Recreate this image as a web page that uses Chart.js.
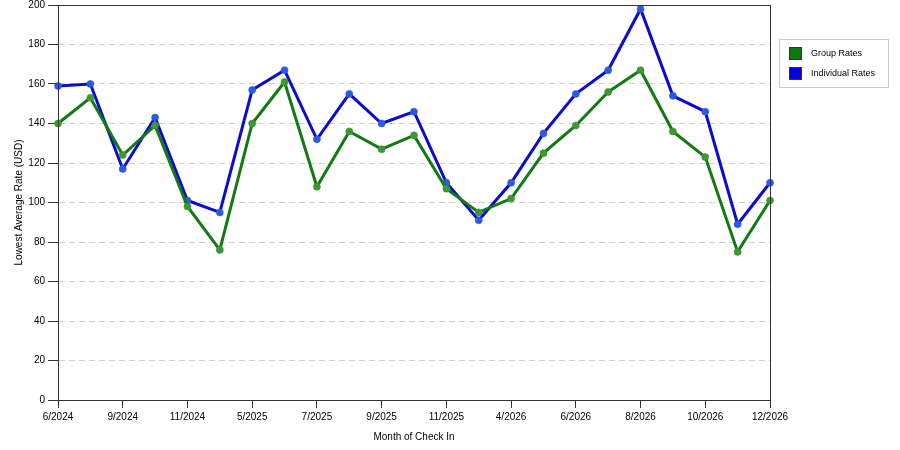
<!DOCTYPE html>
<html>
<head>
<meta charset="utf-8">
<script src="https://cdn.jsdelivr.net/npm/chart.js@4/dist/chart.umd.min.js"></script>
<style>
  html, body { margin: 0; padding: 0; background: #fff; }
  #wrap { width: 900px; height: 450px; }
</style>
</head>
<body>
<div id="wrap"><canvas id="rateChart" width="900" height="450"></canvas></div>
<script>
// months of check in (only every other one gets a label on the axis)
const months = ['6/2024', '8/2024', '9/2024', '10/2024', '11/2024', '12/2024',
  '5/2025', '6/2025', '7/2025', '8/2025', '9/2025', '10/2025', '11/2025', '12/2025',
  '4/2026', '5/2026', '6/2026', '7/2026', '8/2026', '9/2026', '10/2026', '11/2026', '12/2026'];

const groupRates = [140, 153, 124, 139, 98, 76, 140, 161, 108, 136, 127, 134, 107, 95,
  102, 125, 139, 156, 167, 136, 123, 75, 101];

const individualRates = [159, 160, 117, 143, 101, 95, 157, 167, 132, 155, 140, 146, 110, 91,
  110, 135, 155, 167, 198, 154, 146, 89, 110];

const yTicks = [0, 20, 40, 60, 80, 100, 120, 140, 160, 180, 200];

const groupColor = '#137a13';
const indivColor = '#0a0ad0';

// frame round the plot area + legend box on the right
const framePlugin = {
  id: 'frame',
  afterDraw(chart) {
    const ctx = chart.ctx;
    const a = chart.chartArea;
    ctx.save();
    ctx.strokeStyle = '#333';
    ctx.lineWidth = 1;
    ctx.strokeRect(a.left + 0.5, a.top + 0.5, a.right - a.left, a.bottom - a.top);

    // legend
    ctx.strokeStyle = '#ccc';
    ctx.strokeRect(779.5, 39.5, 109, 48);
    ctx.font = '9px "Liberation Sans", Arial, sans-serif';
    ctx.textBaseline = 'middle';
    ctx.textAlign = 'left';
    chart.data.datasets.forEach((ds, i) => {
      const y = 47 + i * 20;
      ctx.fillStyle = ds.legendColor;
      ctx.fillRect(789, y, 12, 12);
      ctx.strokeStyle = '#333';
      ctx.strokeRect(789.5, y + 0.5, 12, 12);
      ctx.fillStyle = '#000';
      ctx.fillText(ds.label, 811, y + 6.5);
    });
    ctx.restore();
  }
};

const ctx = document.getElementById('rateChart').getContext('2d');
window.myChart = new Chart(ctx, {
  type: 'line',
  data: {
    labels: months,
    datasets: [
      {
        label: 'Group Rates',
        data: groupRates,
        borderColor: groupColor,
        legendColor: '#0b7a0b',
        borderWidth: 3,
        pointRadius: 3.5,
        pointBackgroundColor: '#3c9a34',
        pointBorderColor: 'rgba(60,140,50,0.6)',
        pointBorderWidth: 1,
        tension: 0,
        fill: false
      },
      {
        label: 'Individual Rates',
        data: individualRates,
        borderColor: indivColor,
        legendColor: '#0000ee',
        borderWidth: 3,
        pointRadius: 3.5,
        pointBackgroundColor: '#2a5ae0',
        pointBorderColor: 'rgba(40,90,220,0.6)',
        pointBorderWidth: 1,
        tension: 0,
        fill: false
      }
    ]
  },
  options: {
    responsive: false,
    animation: false,
    devicePixelRatio: 1,
    layout: { padding: { left: 0, right: 130, top: 4, bottom: 0 } },
    plugins: {
      legend: { display: false },
      tooltip: { enabled: false }
    },
    scales: {
      x: {
        offset: false,
        afterFit(scale) { scale.height = 50; },
        grid: {
          drawOnChartArea: false,
          tickLength: 8,
          color: (c) => (c.index % 2 === 0 ? '#333' : 'rgba(0,0,0,0)'),
          tickColor: (c) => (c.index % 2 === 0 ? '#333' : 'rgba(0,0,0,0)')
        },
        border: { color: '#333', width: 1 },
        ticks: {
          autoSkip: false,
          maxRotation: 0,
          padding: 3,
          color: '#000',
          font: { family: '"Liberation Sans", Arial, sans-serif', size: 10 },
          callback: (v, i) => (i % 2 === 0 ? months[i] : '')
        },
        title: {
          display: true,
          text: 'Month of Check In',
          color: '#000',
          font: { family: '"Liberation Sans", Arial, sans-serif', size: 10 },
          padding: { top: 0, bottom: 7 }
        }
      },
      y: {
        min: 0,
        max: 200,
        afterFit(scale) {
          scale.width = 58;
          scale.paddingTop = 0;
          scale.paddingBottom = 0;
        },
        afterBuildTicks(scale) { scale.ticks = yTicks.map(v => ({ value: v })); },
        grid: {
          color: '#d0d0d0',
          tickColor: '#333',
          tickLength: 10,
          tickBorderDash: []
        },
        border: { color: '#333', width: 1, dash: [6, 4] },
        ticks: {
          padding: 3,
          color: '#000',
          font: { family: '"Liberation Sans", Arial, sans-serif', size: 10 }
        },
        title: {
          display: true,
          text: 'Lowest Average Rate (USD)',
          color: '#000',
          font: { family: '"Liberation Sans", Arial, sans-serif', size: 10 },
          padding: { top: 13, bottom: 0 }
        }
      }
    }
  },
  plugins: [framePlugin]
});
</script>
</body>
</html>
